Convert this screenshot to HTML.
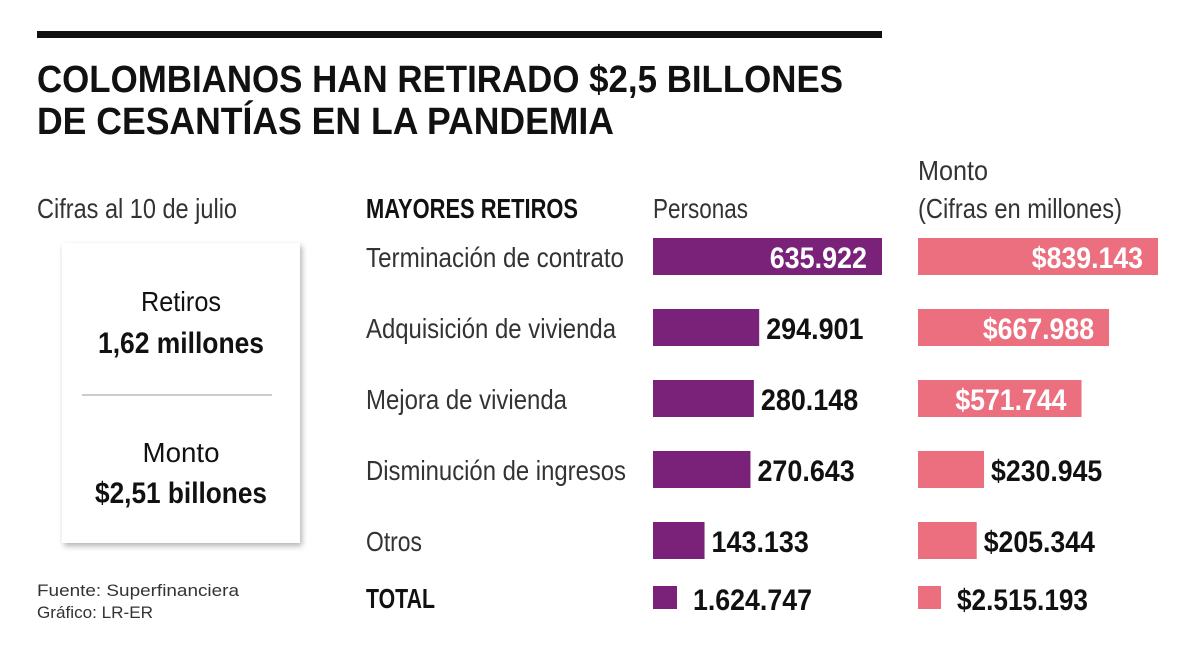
<!DOCTYPE html>
<html><head><meta charset="utf-8"><style>
html,body{margin:0;padding:0;background:#fff;}
svg{display:block;font-family:"Liberation Sans",sans-serif;}
</style></head><body>
<svg id="chart" width="1200" height="654" viewBox="0 0 1200 654" xmlns="http://www.w3.org/2000/svg">
<defs><filter id="sh" x="-10%" y="-10%" width="130%" height="130%"><feDropShadow dx="2" dy="3" stdDeviation="3" flood-color="#000" flood-opacity="0.3"/></filter></defs>
<rect x="37" y="31" width="845" height="7" fill="#111"/>
<text x="37" y="92" font-size="38" font-weight="bold" fill="#111" textLength="806" lengthAdjust="spacingAndGlyphs">COLOMBIANOS HAN RETIRADO $2,5 BILLONES</text>
<text x="37" y="134" font-size="38" font-weight="bold" fill="#111" textLength="577" lengthAdjust="spacingAndGlyphs">DE CESANTÍAS EN LA PANDEMIA</text>
<text x="37" y="218" font-size="28" fill="#333" textLength="200" lengthAdjust="spacingAndGlyphs">Cifras al 10 de julio</text>
<rect x="62" y="243" width="238" height="300" fill="#fff" filter="url(#sh)"/>
<text x="181" y="311" font-size="28" fill="#111" text-anchor="middle" textLength="80" lengthAdjust="spacingAndGlyphs">Retiros</text>
<text x="181" y="353" font-size="30" font-weight="bold" fill="#111" text-anchor="middle" textLength="166" lengthAdjust="spacingAndGlyphs">1,62 millones</text>
<rect x="82" y="394" width="190" height="2" fill="#ccc"/>
<text x="181" y="462" font-size="28" fill="#111" text-anchor="middle" textLength="77" lengthAdjust="spacingAndGlyphs">Monto</text>
<text x="181" y="503" font-size="30" font-weight="bold" fill="#111" text-anchor="middle" textLength="172" lengthAdjust="spacingAndGlyphs">$2,51 billones</text>
<text x="37" y="596" font-size="17" fill="#333" textLength="202" lengthAdjust="spacingAndGlyphs">Fuente: Superfinanciera</text>
<text x="37" y="618" font-size="17" fill="#333" textLength="116" lengthAdjust="spacingAndGlyphs">Gráfico: LR-ER</text>
<text x="366" y="218" font-size="28" font-weight="bold" fill="#111" textLength="212" lengthAdjust="spacingAndGlyphs">MAYORES RETIROS</text>
<text x="653" y="218" font-size="28" fill="#333" textLength="95" lengthAdjust="spacingAndGlyphs">Personas</text>
<text x="918" y="180" font-size="28" fill="#333" textLength="70" lengthAdjust="spacingAndGlyphs">Monto</text>
<text x="918" y="218" font-size="28" fill="#333" textLength="204" lengthAdjust="spacingAndGlyphs">(Cifras en millones)</text>
<g id="rows"></g>
</svg>
<script>
const categories = ["Terminación de contrato","Adquisición de vivienda","Mejora de vivienda","Disminución de ingresos","Otros"];
const catWidths = [258,250,201,260,56];
const personas = [635922,294901,280148,270643,143133];
const montos = [839143,667988,571744,230945,205344];
const totalPersonas = 1624747;
const totalMonto = 2515193;

const NS="http://www.w3.org/2000/svg";
const g=document.getElementById('rows');
const fmt=v=>String(v).replace(/\B(?=(\d{3})+(?!\d))/g,'.');
const xP=v=>v/635922*229;
const xM=v=>v/839143*240;
const rowY=i=>238+i*71;
function mk(tag,attrs){const e=document.createElementNS(NS,tag);for(const k in attrs)e.setAttribute(k,attrs[k]);g.appendChild(e);return e;}
function valueText(str,x0,w,y,inside){
  const len=str.length*13.9;
  const x= inside ? x0+w-15-len : x0+w+7;
  const t=mk('text',{x:x,y:y,'font-size':30,'font-weight':'bold',fill:inside?'#fff':'#111',textLength:len,lengthAdjust:'spacingAndGlyphs'});
  t.textContent=str;return t;
}
categories.forEach((c,i)=>{
  const y=rowY(i);
  const t=mk('text',{x:366,y:y+29,'font-size':28,fill:'#333',textLength:catWidths[i],lengthAdjust:'spacingAndGlyphs'});
  
  
  t.textContent=c;
  const wp=xP(personas[i]);
  const b=mk('rect',{x:653,y:y,width:wp,height:37,fill:'#7a2279'});
  
  
  const vp=valueText(fmt(personas[i]),653,wp,y+30,wp>150);
  
  
  const wm=xM(montos[i]);
  const m=mk('rect',{x:918,y:y,width:wm,height:37,fill:'#ec6f7f'});
  
  
  const vm=valueText('$'+fmt(montos[i]),918,wm,y+30,wm>140);
  
  
});
const ty=586;
const tl=mk('text',{x:366,y:ty+22,'font-size':28,'font-weight':'bold',fill:'#111',textLength:69,lengthAdjust:'spacingAndGlyphs'});


tl.textContent='TOTAL';
const s1=mk('rect',{x:653,y:ty,width:24,height:23,fill:'#7a2279'});


const tp=mk('text',{x:693,y:ty+24,'font-size':30,'font-weight':'bold',fill:'#111',textLength:119,lengthAdjust:'spacingAndGlyphs'});


tp.textContent=fmt(totalPersonas);
const s2=mk('rect',{x:918,y:ty,width:23,height:23,fill:'#ec6f7f'});


const tm=mk('text',{x:957,y:ty+24,'font-size':30,'font-weight':'bold',fill:'#111',textLength:131,lengthAdjust:'spacingAndGlyphs'});


tm.textContent='$'+fmt(totalMonto);
</script>
</body></html>
